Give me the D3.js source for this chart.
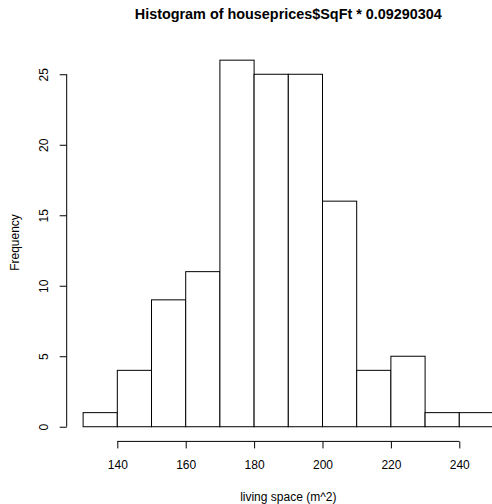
<!DOCTYPE html>
<html>
<head>
<meta charset="utf-8">
<script src="https://cdn.jsdelivr.net/npm/d3@7"></script>
<style>
  body { margin: 0; background: #fff; }
  svg { display: block; font-family: "Liberation Sans", Arial, sans-serif; }
</style>
</head>
<body>
<svg id="chart" width="492" height="504"></svg>
<script>
// Histogram bins (m^2) and counts
const binStarts = [130, 140, 150, 160, 170, 180, 190, 200, 210, 220, 230, 240];
const binWidth = 10;
const counts = [1, 4, 9, 11, 26, 25, 25, 16, 4, 5, 1, 1];
const xTicks = [140, 160, 180, 200, 220, 240];
const yTicks = [0, 5, 10, 15, 20, 25];
const title = "Histogram of houseprices$SqFt * 0.09290304";
const xLabel = "living space (m^2)";
const yLabel = "Frequency";

const svg = d3.select("#chart");

// Plot region with 4% padding on each axis range
const xMin = 130, xMax = 250, yMax = 26;
const xPad = (xMax - xMin) * 0.04, yPad = yMax * 0.04;
const x = d3.scaleLinear().domain([xMin - xPad, xMax + xPad]).range([66.7, 509.9]);
const y = d3.scaleLinear().domain([-yPad, yMax + yPad]).range([441.4, 45.5]);

// Bars
svg.append("g")
  .selectAll("rect")
  .data(binStarts.map((s, i) => ({ s, c: counts[i] })))
  .join("rect")
  .attr("x", d => x(d.s))
  .attr("y", d => y(d.c))
  .attr("width", d => x(d.s + binWidth) - x(d.s))
  .attr("height", d => y(0) - y(d.c))
  .attr("fill", "#fff")
  .attr("stroke", "#000")
  .attr("stroke-width", 1);

// X axis
const gx = svg.append("g")
  .attr("transform", `translate(0,${y.range()[0]})`)
  .call(d3.axisBottom(x).tickValues(xTicks).tickSize(7).tickSizeOuter(0).tickPadding(12))
  .call(g => g.select(".domain").attr("d", `M${x(140)},0H${x(240)}`));
gx.selectAll("text").attr("font-size", 12).attr("font-family", "Liberation Sans, Arial, sans-serif").attr("fill", "#000");
gx.selectAll("line, path").attr("stroke", "#000");

// Y axis with rotated labels
const gy = svg.append("g")
  .attr("transform", `translate(${x.range()[0]},0)`)
  .call(d3.axisLeft(y).tickValues(yTicks).tickSize(7).tickSizeOuter(0))
  .call(g => g.select(".domain").attr("d", `M0,${y(0)}V${y(25)}`));
gy.selectAll("line, path").attr("stroke", "#000");
gy.selectAll(".tick text")
  .attr("x", null).attr("dy", null)
  .attr("transform", "translate(-22.5,0) rotate(-90)")
  .attr("text-anchor", "middle")
  .attr("dominant-baseline", "central")
  .attr("font-size", 12)
  .attr("font-family", "Liberation Sans, Arial, sans-serif")
  .attr("fill", "#000");

const cx = (x.range()[0] + x.range()[1]) / 2;

// Title
svg.append("text")
  .attr("x", cx).attr("y", 19)
  .attr("text-anchor", "middle")
  .attr("font-size", 14.4).attr("font-weight", "bold")
  .text(title);

// Axis titles
svg.append("text")
  .attr("x", cx).attr("y", 501)
  .attr("text-anchor", "middle")
  .attr("font-size", 12)
  .text(xLabel);

svg.append("text")
  .attr("transform", `translate(15,${(y(0) + y(25)) / 2 - 8}) rotate(-90)`)
  .attr("text-anchor", "middle")
  .attr("dominant-baseline", "central")
  .attr("font-size", 12)
  .text(yLabel);
</script>
</body>
</html>
